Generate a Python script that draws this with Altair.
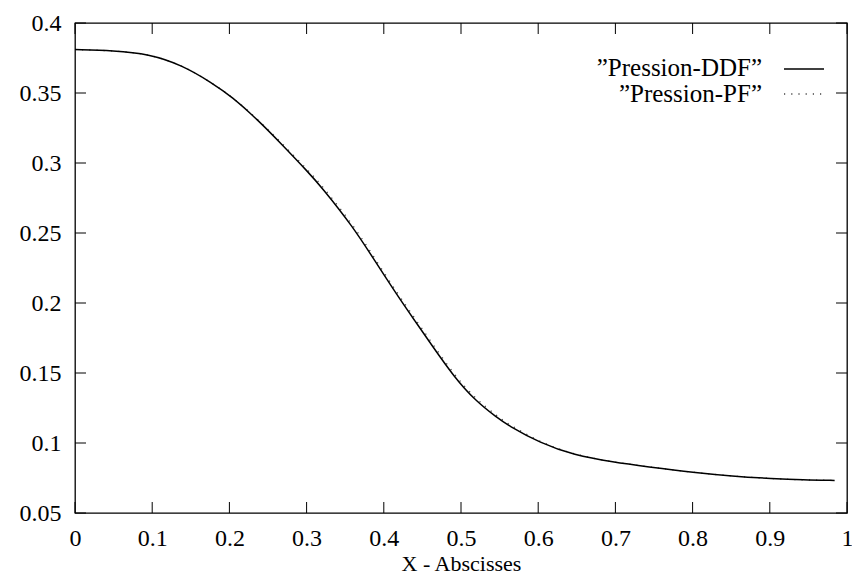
import altair as alt
import pandas as pd

# ---- data ----
x_vals = [0.0, 0.05, 0.0955, 0.1385, 0.177, 0.203, 0.237, 0.2675, 0.302, 0.319, 0.360, 0.388,
          0.418, 0.440, 0.461, 0.491, 0.519, 0.547, 0.560, 0.603, 0.646, 0.698, 0.7406, 0.803,
          0.85, 0.904, 0.943, 0.984]
y_ddf = [0.381, 0.3803, 0.3779, 0.370, 0.3574, 0.3474, 0.3307, 0.3135, 0.2935, 0.2830, 0.2545,
         0.2305, 0.2050, 0.1875, 0.1708, 0.1472, 0.1300, 0.1180, 0.1129, 0.0998, 0.0914, 0.0862,
         0.0831, 0.0788, 0.0764, 0.0745, 0.0736, 0.0733]
y_pf = [0.381, 0.3803, 0.3779, 0.370, 0.3574, 0.3476, 0.3312, 0.3143, 0.2947, 0.2845, 0.2561,
        0.2321, 0.2066, 0.1892, 0.1725, 0.1488, 0.1314, 0.1192, 0.1139, 0.1004, 0.0917, 0.0863,
        0.0831, 0.0788, 0.0764, 0.0745, 0.0736, 0.0733]
series_names = ["\u201dPression-DDF\u201d", "\u201dPression-PF\u201d"]
x_ticks = [0, 0.1, 0.2, 0.3, 0.4, 0.5, 0.6, 0.7, 0.8, 0.9, 1]
y_ticks = [0.05, 0.1, 0.15, 0.2, 0.25, 0.3, 0.35, 0.4]
x_title = "X - Abscisses"

W, H = 772, 490
FONT = "Liberation Serif, Times New Roman, serif"
TL = 11  # inward tick length

df_ddf = pd.DataFrame({"x": x_vals, "y": y_ddf})
df_pf = pd.DataFrame({"x": x_vals, "y": y_pf})
df_xt = pd.DataFrame({"x": x_ticks})
df_yt = pd.DataFrame({"y": y_ticks})

xscale = alt.Scale(domain=[0, 1], nice=False, zero=False)
yscale = alt.Scale(domain=[0.05, 0.4], nice=False, zero=False)

xaxis = alt.Axis(values=x_ticks, format="~g", title=x_title, labelPadding=13,
                 titlePadding=3, titleFontSize=22, labelFlush=False)
yaxis = alt.Axis(values=y_ticks, format="~g", title=None, labelPadding=14)

X = alt.X("x:Q", scale=xscale, axis=xaxis)
Y = alt.Y("y:Q", scale=yscale, axis=yaxis)

pf_line = alt.Chart(df_pf).mark_line(
    color="#444444", strokeWidth=1.3, strokeDash=[1.2, 6], interpolate="basis"
).encode(x=X, y=Y)

ddf_line = alt.Chart(df_ddf).mark_line(
    color="black", strokeWidth=1.5, interpolate="basis"
).encode(x=X, y=Y)

# inward ticks on all four sides
xt_bottom = alt.Chart(df_xt).mark_rule(color="black", strokeWidth=1).encode(
    x=X, y=alt.value(H), y2=alt.value(H - TL))
xt_top = alt.Chart(df_xt).mark_rule(color="black", strokeWidth=1).encode(
    x=X, y=alt.value(0), y2=alt.value(TL))
yt_left = alt.Chart(df_yt).mark_rule(color="black", strokeWidth=1).encode(
    y=Y, x=alt.value(0), x2=alt.value(TL))
yt_right = alt.Chart(df_yt).mark_rule(color="black", strokeWidth=1).encode(
    y=Y, x=alt.value(W - TL), x2=alt.value(W))

# key (gnuplot style: text right-aligned, sample to the right)
leg_txt1 = alt.Chart().mark_text(text=series_names[0], align="right", baseline="alphabetic",
                                  font=FONT, fontSize=25, color="black").encode(
    x=alt.value(687), y=alt.value(53))
leg_txt2 = alt.Chart().mark_text(text=series_names[1], align="right", baseline="alphabetic",
                                  font=FONT, fontSize=25, color="black").encode(
    x=alt.value(687), y=alt.value(79))
leg_ln1 = alt.Chart().mark_rule(color="black", strokeWidth=1.5).encode(
    x=alt.value(709), x2=alt.value(749), y=alt.value(46))
leg_ln2 = alt.Chart().mark_rule(color="#444444", strokeWidth=1.3, strokeDash=[1.2, 6]).encode(
    x=alt.value(709), x2=alt.value(749), y=alt.value(71))

chart = alt.layer(
    pf_line, ddf_line, xt_bottom, xt_top, yt_left, yt_right,
    leg_txt1, leg_txt2, leg_ln1, leg_ln2
).properties(
    width=W, height=H,
    background="white",
    autosize=alt.AutoSizeParams(type="none"),
    padding={"left": 67, "top": 15, "right": 5, "bottom": 62},
).configure_view(
    stroke="black", strokeWidth=1.3
).configure_axis(
    grid=False, domain=False, ticks=False,
    labelFont=FONT, labelFontSize=24, labelColor="black",
    titleFont=FONT, titleFontSize=24, titleFontWeight="normal", titleColor="black",
)

chart.save("out.html", embed_options={"renderer": "svg", "actions": False})
